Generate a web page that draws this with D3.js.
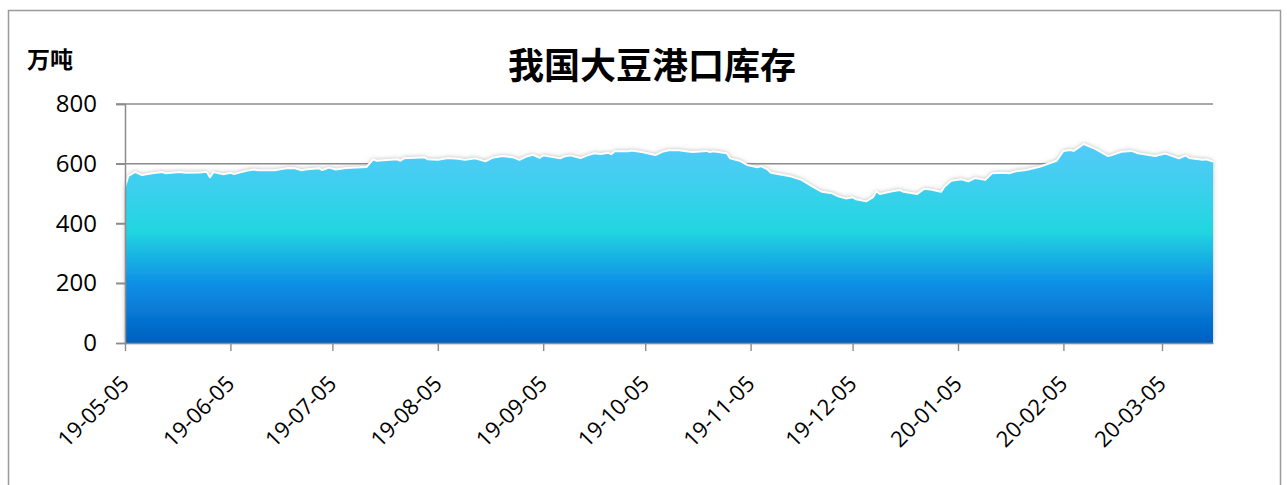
<!DOCTYPE html>
<html>
<head>
<meta charset="utf-8">
<script src="https://cdn.jsdelivr.net/npm/d3@7"></script>
<style>
  body { margin: 0; background: #fff; }
  svg { display: block; }
</style>
</head>
<body>
<div id="chart"></div>
<script>
// chart data
const title = '我国大豆港口库存';
const unitLabel = '万吨';
const yTicks = [0, 200, 400, 600, 800];
const xTickLabels = ['19-05-05', '19-06-05', '19-07-05', '19-08-05', '19-09-05', '19-10-05',
  '19-11-05', '19-12-05', '20-01-05', '20-02-05', '20-03-05'];
const dates = [
  '2019-05-05', '2019-05-06', '2019-05-08', '2019-05-10', '2019-05-13', '2019-05-16', '2019-05-17',
  '2019-05-21', '2019-05-23', '2019-05-27', '2019-05-29', '2019-05-30', '2019-05-31',
  '2019-06-03', '2019-06-05', '2019-06-06', '2019-06-10', '2019-06-12', '2019-06-13', '2019-06-18',
  '2019-06-20', '2019-06-22', '2019-06-24', '2019-06-26', '2019-06-27',
  '2019-07-01', '2019-07-02', '2019-07-04', '2019-07-06', '2019-07-09', '2019-07-15', '2019-07-17',
  '2019-07-18', '2019-07-22', '2019-07-24', '2019-07-25', '2019-07-26',
  '2019-08-01', '2019-08-02', '2019-08-05', '2019-08-08', '2019-08-11', '2019-08-13', '2019-08-16',
  '2019-08-19', '2019-08-21', '2019-08-24', '2019-08-27', '2019-08-29', '2019-08-31',
  '2019-09-02', '2019-09-04', '2019-09-05', '2019-09-10', '2019-09-11', '2019-09-13', '2019-09-16',
  '2019-09-18', '2019-09-20', '2019-09-22', '2019-09-24', '2019-09-25', '2019-09-26', '2019-09-30',
  '2019-10-01', '2019-10-04', '2019-10-08', '2019-10-10', '2019-10-12', '2019-10-15', '2019-10-17',
  '2019-10-19', '2019-10-23', '2019-10-24', '2019-10-25', '2019-10-29', '2019-10-30',
  '2019-11-02', '2019-11-04', '2019-11-07', '2019-11-08', '2019-11-10', '2019-11-11', '2019-11-13',
  '2019-11-17', '2019-11-20', '2019-11-23', '2019-11-26', '2019-11-29',
  '2019-12-01', '2019-12-03', '2019-12-05', '2019-12-06', '2019-12-09', '2019-12-11', '2019-12-12',
  '2019-12-13', '2019-12-17', '2019-12-19', '2019-12-20', '2019-12-24', '2019-12-26', '2019-12-28',
  '2019-12-31',
  '2020-01-01', '2020-01-03', '2020-01-06', '2020-01-08', '2020-01-10', '2020-01-13', '2020-01-15',
  '2020-01-18', '2020-01-20', '2020-01-22', '2020-01-25', '2020-01-29',
  '2020-02-03', '2020-02-05', '2020-02-07', '2020-02-08', '2020-02-11', '2020-02-14', '2020-02-18',
  '2020-02-19', '2020-02-22', '2020-02-25', '2020-02-27',
  '2020-03-03', '2020-03-06', '2020-03-10', '2020-03-12', '2020-03-13', '2020-03-17', '2020-03-18',
  '2020-03-20'
];
const stocks = [
  523, 559, 573, 562, 568, 572, 568,
  572, 570, 571, 573, 555, 572,
  565, 570, 566, 577, 581, 578, 578,
  582, 586, 585, 578, 581,
  585, 579, 587, 581, 586, 589, 615,
  610, 613, 615, 610, 618,
  622, 615, 613, 619, 617, 613, 618,
  608, 620, 626, 622, 613, 624,
  630, 620, 628, 618, 624, 628, 619,
  628, 635, 633, 637, 632, 642, 642,
  644, 639, 629, 640, 645, 645, 642,
  639, 643, 639, 642, 635, 618,
  609, 596, 588, 592, 581, 570, 566,
  557, 546, 525, 506, 501,
  490, 484, 488, 481, 474, 488, 508,
  499, 509, 512, 506, 499, 516, 514,
  506,
  523, 543, 548, 541, 552, 546, 568,
  570, 568, 575, 579, 590,
  610, 643, 646, 643, 666, 652, 626,
  628, 640, 643, 635,
  626, 634, 618, 628, 619, 613, 615,
  607
];

const W = 1287, H = 485;
const plot = { left: 125, right: 1213, top: 104, bottom: 343 };
const tickFont = '"Open Sans", "Noto Sans", sans-serif';

const parseDay = d3.timeParse('%Y-%m-%d');
const parseTick = d3.timeParse('%y-%m-%d');
const data = dates.map((d, i) => ({ date: parseDay(d), value: stocks[i] }));

const svg = d3.select('#chart').append('svg')
  .attr('width', W)
  .attr('height', H);

// outer frame
svg.append('rect')
  .attr('x', 8.5).attr('y', 10.5)
  .attr('width', 1272).attr('height', 500)
  .attr('fill', 'none')
  .attr('stroke', '#9a9a9a')
  .attr('stroke-width', 1.5);

const x = d3.scaleTime()
  .domain([data[0].date, data[data.length - 1].date])
  .range([plot.left, plot.right]);

const y = d3.scaleLinear()
  .domain([0, 800])
  .range([plot.bottom, plot.top]);

const defs = svg.append('defs');
const grad = defs.append('linearGradient')
  .attr('id', 'fillGrad')
  .attr('gradientUnits', 'userSpaceOnUse')
  .attr('x1', 0).attr('x2', 0)
  .attr('y1', plot.top).attr('y2', plot.bottom);
[[0, '#6fd2fb'], [0.19, '#52caf8'], [0.53, '#22d6e0'], [0.75, '#0e90e6'], [1, '#005fc1']]
  .forEach(s => grad.append('stop').attr('offset', s[0]).attr('stop-color', s[1]));

const shadow = defs.append('filter')
  .attr('id', 'glow')
  .attr('x', '-5%').attr('y', '-10%')
  .attr('width', '110%').attr('height', '120%');
shadow.append('feDropShadow')
  .attr('dx', 0).attr('dy', -1)
  .attr('stdDeviation', 2.2)
  .attr('flood-color', '#8a8a8a')
  .attr('flood-opacity', 0.6);

// gridlines
svg.append('g')
  .selectAll('line')
  .data(yTicks.filter(d => d > 0))
  .enter()
  .append('line')
  .attr('x1', plot.left - 9)
  .attr('x2', plot.right)
  .attr('y1', d => y(d))
  .attr('y2', d => y(d))
  .attr('stroke', '#8c8c8c')
  .attr('stroke-width', 1.4);

// area
const area = d3.area()
  .x(d => x(d.date))
  .y0(y(0))
  .y1(d => y(d.value));

svg.append('path')
  .datum(data)
  .attr('d', area)
  .attr('fill', 'url(#fillGrad)')
  .attr('filter', 'url(#glow)');

const line = d3.line()
  .x(d => x(d.date))
  .y(d => y(d.value));

svg.append('path')
  .datum(data)
  .attr('d', line)
  .attr('fill', 'none')
  .attr('stroke', '#ffffff')
  .attr('stroke-width', 2)
  .attr('stroke-linejoin', 'round');

// y axis
const yAxis = svg.append('g')
  .attr('transform', 'translate(' + plot.left + ',0)')
  .call(d3.axisLeft(y).tickValues(yTicks).tickSize(9).tickPadding(19));
yAxis.select('.domain').attr('stroke', '#8c8c8c').attr('stroke-width', 1.5);
yAxis.selectAll('.tick line').attr('stroke', '#8c8c8c').attr('stroke-width', 1.4);
yAxis.selectAll('text')
  .attr('fill', '#000')
  .style('font-family', tickFont)
  .style('font-size', '24px');

// x axis
const xAxis = svg.append('g')
  .attr('transform', 'translate(0,' + plot.bottom + ')')
  .call(d3.axisBottom(x)
    .tickValues(xTickLabels.map(t => parseTick(t)))
    .tickFormat(d3.timeFormat('%y-%m-%d'))
    .tickSize(8)
    .tickSizeOuter(0));
xAxis.select('.domain').attr('stroke', '#8c8c8c').attr('stroke-width', 1.5);
xAxis.selectAll('.tick line').attr('stroke', '#8c8c8c').attr('stroke-width', 1.4);
xAxis.selectAll('text')
  .attr('fill', '#000')
  .attr('text-anchor', 'end')
  .attr('x', 0)
  .attr('y', 0)
  .attr('dy', 0)
  .attr('transform', 'translate(5,42) rotate(-45)')
  .style('font-family', tickFont)
  .style('font-size', '22px');

// title and unit
svg.append('text')
  .attr('x', 652)
  .attr('y', 79)
  .attr('text-anchor', 'middle')
  .style('font-family', '"Noto Sans CJK SC", sans-serif')
  .style('font-weight', 'bold')
  .style('font-size', '36px')
  .text(title);

svg.append('text')
  .attr('x', 27)
  .attr('y', 68)
  .style('font-family', '"Noto Sans CJK SC", sans-serif')
  .style('font-weight', 'bold')
  .style('font-size', '23px')
  .text(unitLabel);
</script>
</body>
</html>
